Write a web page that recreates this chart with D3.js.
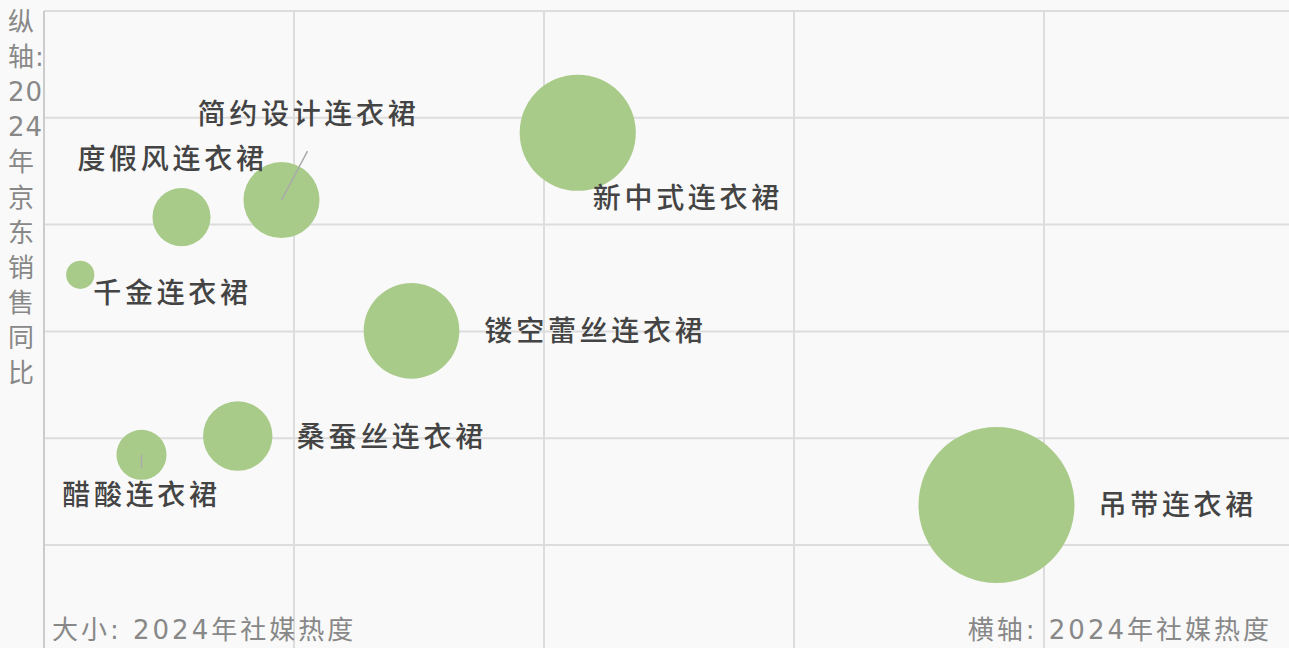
<!DOCTYPE html>
<html>
<head>
<meta charset="utf-8">
<script src="https://cdn.jsdelivr.net/npm/d3@7"></script>
<style>
  html, body { margin: 0; padding: 0; background: #f9f9f9; }
  svg { display: block; font-family: "DejaVu Sans", "Noto Sans CJK SC", sans-serif; }
</style>
</head>
<body>
<div id="chart"></div>
<script>
// bubble data
const names = ['千金连衣裙', '度假风连衣裙', '简约设计连衣裙', '新中式连衣裙', '镂空蕾丝连衣裙', '桑蚕丝连衣裙', '醋酸连衣裙', '吊带连衣裙'];
const socialHeat = [2.9, 11.0, 19.0, 42.7, 29.4, 15.5, 7.8, 76.2];
const jdGrowth = [50.6, 61.4, 64.6, 77.2, 40.1, 20.4, 16.9, 7.5];
const bubbleSize = [3.3, 14, 24, 56, 38, 20, 10.4, 101];
const xTicks = [0, 20, 40, 60, 80];
const yTicks = [0, 20, 40, 60, 80, 100];

const yTitleLines = ['纵', '轴:', '20', '24', '年', '京', '东', '销', '售', '同', '比'];
const sizeTitle = '大小: 2024年社媒热度';
const xTitle = '横轴: 2024年社媒热度';

// label placement relative to bubble centre (layout, not data)
const labelPlace = {
  '千金连衣裙':     { dx: 13, dy: 19, anchor: 'start' },
  '度假风连衣裙':   { dx: -9, dy: -58, anchor: 'middle' },
  '简约设计连衣裙': { dx: 27, dy: -86, anchor: 'middle', line: [0, 0, 26, -49] },
  '新中式连衣裙':   { dx: 15, dy: 66, anchor: 'start' },
  '镂空蕾丝连衣裙': { dx: 73, dy: 1, anchor: 'start' },
  '桑蚕丝连衣裙':   { dx: 59, dy: 1, anchor: 'start' },
  '醋酸连衣裙':     { dx: 0, dy: 41, anchor: 'middle', line: [0, 0, 0, 13] },
  '吊带连衣裙':     { dx: 102, dy: 1, anchor: 'start' }
};

const W = 1289, H = 648;
const svg = d3.select('#chart').append('svg')
  .attr('width', W)
  .attr('height', H);

svg.append('rect').attr('width', W).attr('height', H).attr('fill', '#f9f9f9');

const x = d3.scaleLinear().domain([0, 100]).range([44, 1294]);
const y = d3.scaleLinear().domain([0, 100]).range([545, 11]);
const r = d3.scaleSqrt().domain([0, d3.max(bubbleSize)]).range([0, 78]);

// grid
svg.append('g').selectAll('line')
  .data(yTicks)
  .enter().append('line')
  .attr('x1', 44).attr('x2', W)
  .attr('y1', d => y(d)).attr('y2', d => y(d))
  .attr('stroke', '#dddddd').attr('stroke-width', 2);

svg.append('g').selectAll('line')
  .data(xTicks.slice(1))
  .enter().append('line')
  .attr('x1', d => x(d)).attr('x2', d => x(d))
  .attr('y1', y(100)).attr('y2', H)
  .attr('stroke', '#dddddd').attr('stroke-width', 2);

svg.append('line')
  .attr('x1', x(0)).attr('x2', x(0))
  .attr('y1', y(100)).attr('y2', H)
  .attr('stroke', '#cccccc').attr('stroke-width', 2);

const data = names.map((n, i) => ({ name: n, x: socialHeat[i], y: jdGrowth[i], s: bubbleSize[i] }));

svg.append('g').selectAll('circle')
  .data(data)
  .enter().append('circle')
  .attr('cx', d => x(d.x))
  .attr('cy', d => y(d.y))
  .attr('r', d => r(d.s))
  .attr('fill', '#a9cb89');

// leader lines
svg.append('g').selectAll('line')
  .data(data.filter(d => labelPlace[d.name].line))
  .enter().append('line')
  .attr('x1', d => x(d.x) + labelPlace[d.name].line[0])
  .attr('y1', d => y(d.y) + labelPlace[d.name].line[1])
  .attr('x2', d => x(d.x) + labelPlace[d.name].line[2])
  .attr('y2', d => y(d.y) + labelPlace[d.name].line[3])
  .attr('stroke', '#aaaaaa').attr('stroke-width', 1.5);

svg.append('g').selectAll('text')
  .data(data)
  .enter().append('text')
  .attr('x', d => x(d.x) + labelPlace[d.name].dx)
  .attr('y', d => y(d.y) + labelPlace[d.name].dy)
  .attr('text-anchor', d => labelPlace[d.name].anchor)
  .attr('dominant-baseline', 'central')
  .attr('font-size', 28)
  .attr('font-weight', 500)
  .attr('letter-spacing', 3.7)
  .attr('fill', '#444444')
  .text(d => d.name);

// axis titles
svg.append('g').selectAll('text')
  .data(yTitleLines)
  .enter().append('text')
  .attr('x', 8)
  .attr('y', (d, i) => 22 + i * 35.1)
  .attr('dominant-baseline', 'central')
  .attr('font-size', 26)
  .attr('letter-spacing', 1)
  .attr('fill', '#888888')
  .text(d => d);

svg.append('text')
  .attr('x', 52).attr('y', 630)
  .attr('dominant-baseline', 'central')
  .attr('font-size', 26)
  .attr('letter-spacing', 3)
  .attr('fill', '#888888')
  .text(sizeTitle);

svg.append('text')
  .attr('x', 1272).attr('y', 630)
  .attr('text-anchor', 'end')
  .attr('dominant-baseline', 'central')
  .attr('font-size', 26)
  .attr('letter-spacing', 3)
  .attr('fill', '#888888')
  .text(xTitle);
</script>
</body>
</html>
